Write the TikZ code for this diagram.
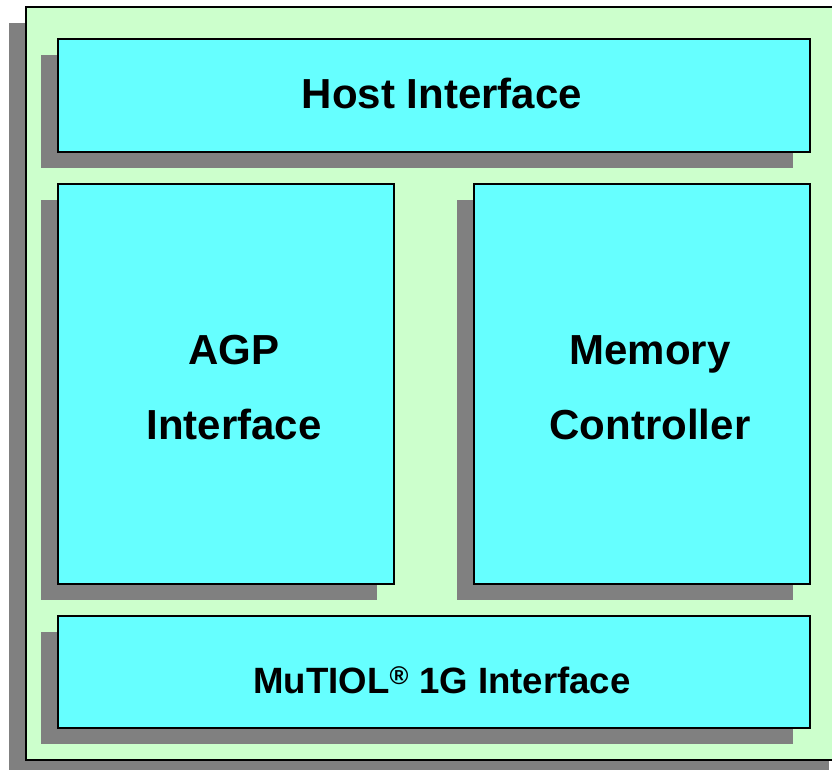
\documentclass[tikz,border=0pt]{standalone}
\usepackage{fontspec}
\setmainfont{Liberation Sans}
\usetikzlibrary{shadows}
\definecolor{boxcyan}{HTML}{66FFFF}
\definecolor{bggreen}{HTML}{CCFFCC}
\definecolor{shadowgray}{HTML}{808080}
\tikzset{
  shadowed/.style={drop shadow={shadow xshift=-17pt, shadow yshift=-16pt, opacity=1, fill=shadowgray}},
  frame/.style={draw=black, line width=2.4pt, fill=bggreen, shadowed},
  block/.style={draw=black, line width=2.4pt, fill=boxcyan, shadowed, inner sep=0pt},
  bigtext/.style={font=\fontsize{42}{75}\selectfont\bfseries, align=center, text=black},
  smalltext/.style={font=\fontsize{36.6}{40}\selectfont\bfseries, align=center, text=black}
}
\begin{document}
\begin{tikzpicture}[x=1pt, y=-1pt]
\useasboundingbox (0,0) rectangle (832,770);
\clip (0,0) rectangle (832,770);
\node[frame, minimum width=820pt, minimum height=753pt, inner sep=0pt] (outer) at (436,383.5) {};
\node[block, minimum width=752pt, minimum height=113pt] (host) at (434,95.5) {};
\node[block, minimum width=336pt, minimum height=400pt] (agp) at (226,384) {};
\node[block, minimum width=336pt, minimum height=400pt] (mem) at (642,384) {};
\node[block, minimum width=752pt, minimum height=112pt] (mutiol) at (434,672) {};
\node[bigtext] (hostt) at ([xshift=8pt, yshift=2pt]host.center) {Host Interface};
\node[bigtext] (agpt) at ([xshift=8pt, yshift=-4pt]agp.center) {AGP\\Interface};
\node[bigtext] (memt) at ([xshift=8pt, yshift=-4pt]mem.center) {Memory\\Controller};
\node[smalltext] (mutiolt) at ([xshift=8pt, yshift=-8pt]mutiol.center) {MuTIOL\textsuperscript{®} 1G Interface};
\end{tikzpicture}
\end{document}
